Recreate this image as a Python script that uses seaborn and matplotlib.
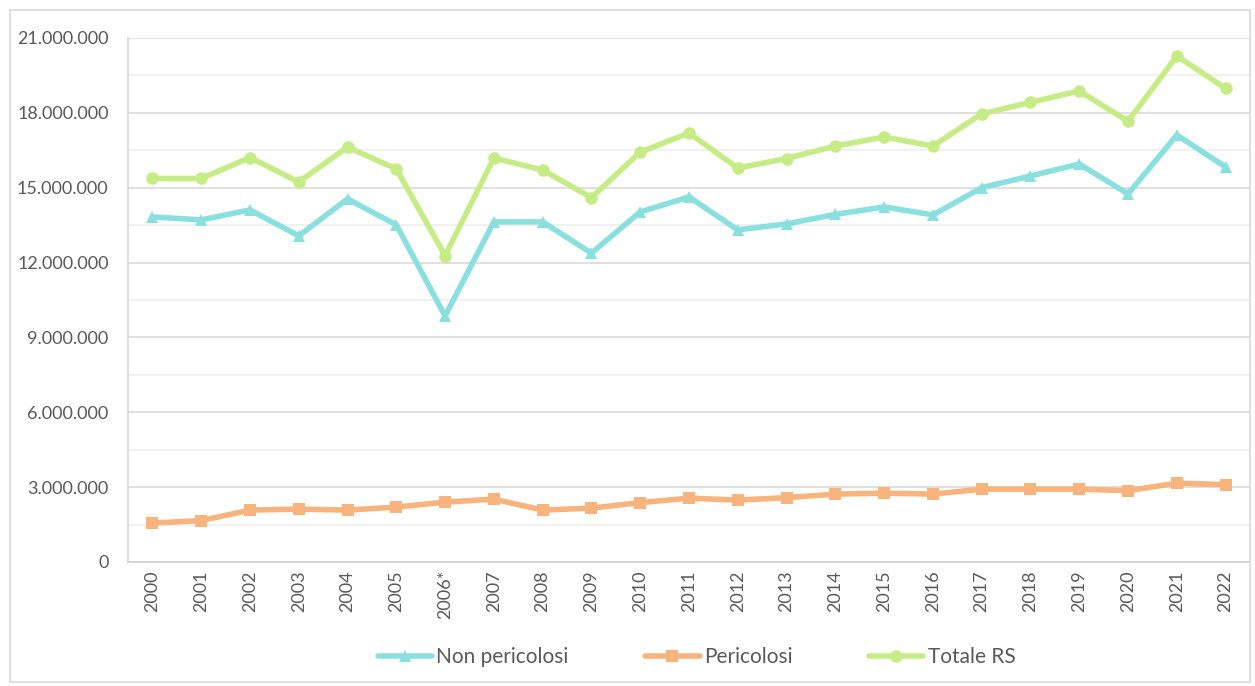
import pandas as pd
import seaborn as sns
import matplotlib.pyplot as plt
from matplotlib.patches import Rectangle
from matplotlib.ticker import MultipleLocator, FuncFormatter

# Data (tonnes)
years = ['2000', '2001', '2002', '2003', '2004', '2005', '2006*', '2007', '2008', '2009', '2010',
         '2011', '2012', '2013', '2014', '2015', '2016', '2017', '2018', '2019', '2020', '2021', '2022']
non_pericolosi = [13.83, 13.71, 14.11, 13.07, 14.55, 13.51, 9.86, 13.63, 13.63, 12.38, 14.03,
                  14.63, 13.31, 13.55, 13.93, 14.23, 13.91, 15.00, 15.47, 15.95, 14.75, 17.11, 15.83]
pericolosi = [1.56, 1.66, 2.08, 2.12, 2.08, 2.20, 2.40, 2.52, 2.08, 2.16, 2.38,
              2.56, 2.48, 2.58, 2.72, 2.76, 2.72, 2.92, 2.92, 2.92, 2.86, 3.16, 3.10]
totale_rs = [15.37, 15.37, 16.21, 15.23, 16.63, 15.75, 12.28, 16.19, 15.71, 14.60, 16.43,
             17.19, 15.79, 16.17, 16.67, 17.03, 16.67, 17.96, 18.42, 18.88, 17.66, 20.28, 18.98]

series = ['Non pericolosi', 'Pericolosi', 'Totale RS']
colors = ['#8ADFDF', '#F8B47C', '#C6EC85']
markers = ['^', 's', 'o']

df = pd.DataFrame({
    'anno': years * 3,
    'valore': [v * 1e6 for v in non_pericolosi + pericolosi + totale_rs],
    'serie': [s for s in series for _ in years],
})

sns.set_theme(style="white")
plt.rcParams['font.family'] = ['Lato', 'DejaVu Sans']

fig = plt.figure(figsize=(12.55, 6.86), dpi=100)
ax = fig.add_axes([128 / 1255, 1 - 562 / 686, (1250 - 128) / 1255, (562 - 38) / 686])

sns.lineplot(data=df, x='anno', y='valore', hue='serie', style='serie',
             palette=colors, markers=markers, dashes=False, ax=ax,
             linewidth=4, markersize=9, markeredgewidth=0, legend=True)

ax.set_ylim(0, 21e6)
ax.set_xlim(-0.5, len(years) - 0.5)
ax.yaxis.set_major_locator(MultipleLocator(3e6))
ax.yaxis.set_minor_locator(MultipleLocator(1.5e6))
ax.yaxis.set_major_formatter(FuncFormatter(lambda v, p: f'{int(v):,}'.replace(',', '.')))
ax.grid(axis='y', which='major', color='#DADADA', linewidth=1.2)
ax.grid(axis='y', which='minor', color='#EFEFEF', linewidth=1.2)
ax.set_axisbelow(True)

ax.set_xlabel('')
ax.set_ylabel('')
ax.tick_params(axis='y', labelsize=13, labelcolor='#595959', length=0, pad=14)
ax.tick_params(axis='x', labelsize=13, labelcolor='#595959', length=0, pad=6, rotation=90)

for side in ['top', 'right']:
    ax.spines[side].set_visible(False)
ax.spines['left'].set_color('#D9D9D9')
ax.spines['bottom'].set_color('#D0D0D0')
ax.spines['left'].set_linewidth(1.2)
ax.spines['bottom'].set_linewidth(1.2)

handles, labels = ax.get_legend_handles_labels()
ax.legend_.remove()
fig.legend(handles, labels, loc='center', bbox_to_anchor=(0.555, 1 - 657 / 686), ncol=3,
           frameon=False, fontsize=15, labelcolor='#595959', columnspacing=3.7,
           handlelength=2.6, handletextpad=0.2)

# outer chart frame
fig.patches.append(Rectangle((10 / 1255, 1 - 682 / 686), 1240 / 1255, 672 / 686,
                             transform=fig.transFigure, fill=False,
                             edgecolor='#D9D9D9', linewidth=1.2))

fig.savefig('out.png', dpi=100)
